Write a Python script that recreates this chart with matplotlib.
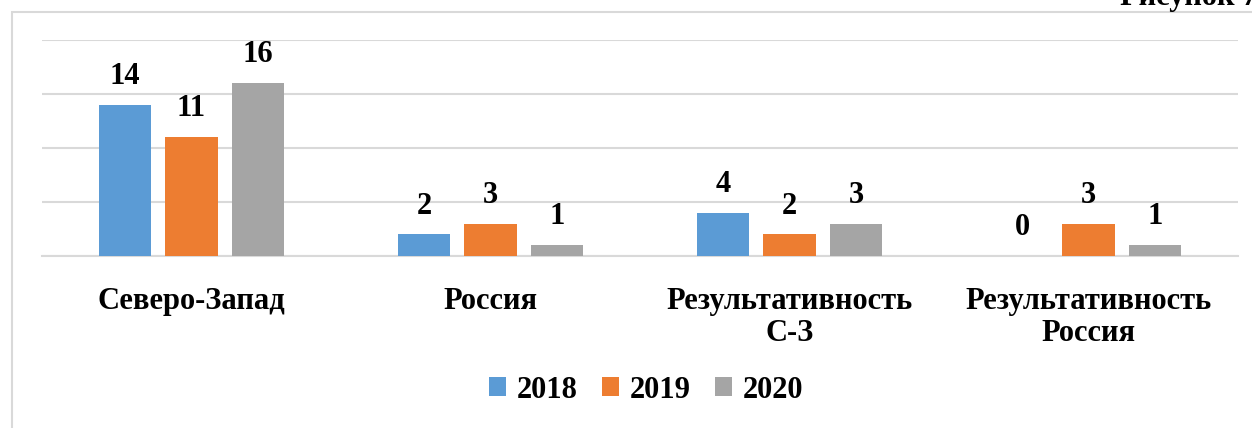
import numpy as np
import matplotlib
matplotlib.use("Agg")
import matplotlib.pyplot as plt
from matplotlib.patches import Rectangle

# -----------------------------
# DATA
# -----------------------------
categories = ["Северо-Запад", "Россия", "Результативность\nС-З", "Результативность\nРоссия"]
years = ["2018", "2019", "2020"]
v2018 = [14, 2, 4, 0]
v2019 = [11, 3, 2, 3]
v2020 = [16, 1, 3, 1]
colors = ["#5B9BD5", "#ED7D31", "#A5A5A5"]

plt.rcParams["font.family"] = ["Liberation Serif", "DejaVu Serif"]
plt.rcParams["font.weight"] = "bold"

W, H = 1252, 428
fig = plt.figure(figsize=(W / 100, H / 100), dpi=100)

# chart frame (cropped on right and bottom)
fig.patches.append(Rectangle((12 / W, -0.1), 1.2, 1.1 - 12 / H, transform=fig.transFigure,
                             fill=False, edgecolor="#D9D9D9", linewidth=1.5))
# caption, cut off at the top edge like in the source
fig.text(1258 / W, 1 + 17 / H, "Рисунок 7", ha="right", va="top", fontsize=22,
         fontweight="bold")

ax = fig.add_axes([42 / W, (H - 256) / H, (1238 - 42) / W, (256 - 40) / H])

x = np.arange(len(categories))
step = 0.222
width = 0.174
for i, (vals, year) in enumerate(zip([v2018, v2019, v2020], years)):
    bars = ax.bar(x + (i - 1) * step, vals, width, color=colors[i], label=year, zorder=3)
    for b, v in zip(bars, vals):
        ax.annotate(str(v), (b.get_x() + b.get_width() / 2, v), xytext=(0, 10),
                    textcoords="offset points", ha="center", va="bottom",
                    fontsize=22, fontweight="bold")

ax.set_xlim(-0.5, 3.5)
ax.set_ylim(0, 20)
ax.set_yticks([0, 5, 10, 15, 20])
ax.set_yticklabels([])
ax.grid(axis="y", color="#D9D9D9", linewidth=1.5, zorder=0)
ax.tick_params(axis="y", length=0)
ax.tick_params(axis="x", length=0, pad=22)
ax.set_xticks(x)
ax.set_xticklabels(categories, fontsize=22, fontweight="bold", linespacing=1.15)
for s in ["top", "right", "left"]:
    ax.spines[s].set_visible(False)
ax.spines["bottom"].set_color("#D9D9D9")
ax.spines["bottom"].set_linewidth(1.5)

fig.legend(loc="center", bbox_to_anchor=(646 / W, 1 - 390 / H), ncol=3, frameon=False,
           handlelength=0.55, handleheight=0.55, handletextpad=0.35,
           columnspacing=0.8, prop={"weight": "bold", "size": 22})

fig.savefig("out.png", dpi=100)
